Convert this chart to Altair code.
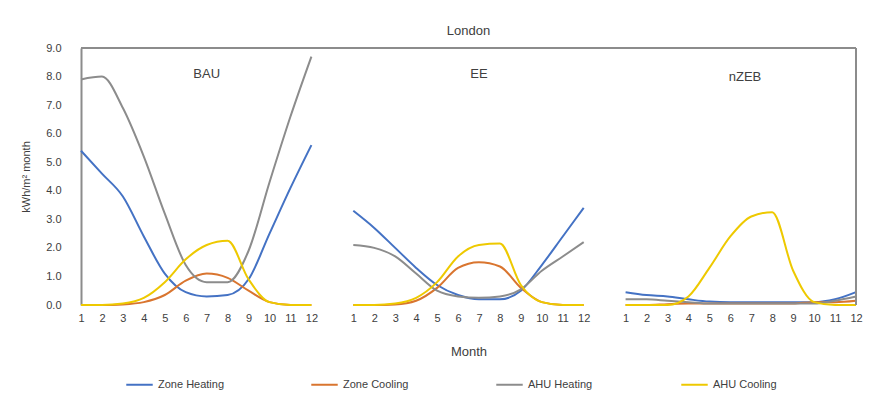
import altair as alt
import pandas as pd

months = list(range(1, 13))
scenarios = ["BAU", "EE", "nZEB"]
scenario_offsets = [0, 13, 26]
series_names = ["Zone Heating", "Zone Cooling", "AHU Heating", "AHU Cooling"]
series_colors = ["#4472C4", "#D9752F", "#8C8C8C", "#EEC900"]

zone_heating_bau = [5.4, 4.6, 3.8, 2.4, 1.1, 0.45, 0.3, 0.35, 0.9, 2.5, 4.1, 5.6]
zone_heating_ee = [3.3, 2.7, 2.0, 1.3, 0.7, 0.35, 0.2, 0.2, 0.5, 1.4, 2.4, 3.4]
zone_heating_nzeb = [0.45, 0.35, 0.3, 0.2, 0.12, 0.1, 0.1, 0.1, 0.1, 0.1, 0.2, 0.45]

zone_cooling_bau = [0, 0, 0.02, 0.1, 0.35, 0.85, 1.1, 0.95, 0.5, 0.1, 0, 0]
zone_cooling_ee = [0, 0, 0.02, 0.15, 0.6, 1.3, 1.5, 1.35, 0.6, 0.1, 0, 0]
zone_cooling_nzeb = [0, 0, 0.03, 0.05, 0.05, 0.05, 0.05, 0.05, 0.05, 0.1, 0.1, 0.15]

ahu_heating_bau = [7.9, 8.0, 6.9, 5.2, 3.2, 1.4, 0.8, 0.8, 1.9, 4.3, 6.6, 8.7]
ahu_heating_ee = [2.1, 2.0, 1.7, 1.1, 0.5, 0.3, 0.25, 0.3, 0.55, 1.2, 1.7, 2.2]
ahu_heating_nzeb = [0.2, 0.2, 0.15, 0.1, 0.05, 0.05, 0.05, 0.05, 0.05, 0.05, 0.15, 0.3]

ahu_cooling_bau = [0, 0, 0.05, 0.25, 0.8, 1.6, 2.1, 2.25, 0.9, 0.1, 0, 0]
ahu_cooling_ee = [0, 0, 0.05, 0.25, 0.8, 1.7, 2.1, 2.15, 0.7, 0.1, 0, 0]
ahu_cooling_nzeb = [0, 0, 0, 0.3, 1.3, 2.4, 3.1, 3.25, 1.2, 0.1, 0, 0]

panel_label_pos = [7, 20, 32.7]
panel_label_y = [8.1, 8.1, 8.0]

all_series = {
    "Zone Heating": [zone_heating_bau, zone_heating_ee, zone_heating_nzeb],
    "Zone Cooling": [zone_cooling_bau, zone_cooling_ee, zone_cooling_nzeb],
    "AHU Heating": [ahu_heating_bau, ahu_heating_ee, ahu_heating_nzeb],
    "AHU Cooling": [ahu_cooling_bau, ahu_cooling_ee, ahu_cooling_nzeb],
}

rows = []
for s in series_names:
    for sc, off, vals in zip(scenarios, scenario_offsets, all_series[s]):
        for m, v in zip(months, vals):
            rows.append({"series": s, "scenario": sc, "month": m, "pos": m + off, "value": v})
df = pd.DataFrame(rows)

tick_positions = [m + off for off in scenario_offsets for m in months]
label_df = pd.DataFrame({"label": scenarios, "pos": panel_label_pos, "value": panel_label_y})
top_df = pd.DataFrame({"value": [9]})
right_df = pd.DataFrame({"pos": [38]})

FONT = "Liberation Sans"
x_scale = alt.Scale(domain=[1, 38], nice=False, zero=False)
y_scale = alt.Scale(domain=[0, 9], nice=False)

x_axis = alt.Axis(values=tick_positions, grid=False, ticks=False, domain=False,
                  labelExpr="datum.value <= 12 ? datum.value : (datum.value <= 25 ? datum.value - 13 : datum.value - 26)",
                  title="Month", labelPadding=7, labelFontSize=11, labelColor="#404040",
                  titleFontSize=13, titleFontWeight="normal", titleColor="#404040",
                  titlePadding=22, labelFont=FONT, titleFont=FONT, labelFlush=False,
                  labelOverlap=False)
y_axis = alt.Axis(values=list(range(0, 10)), format=".1f", grid=False, tickSize=0,
                  domainColor="#8C8C8C", domainWidth=2, labelPadding=20,
                  labelFontSize=11, labelColor="#404040", title="kWh/m² month",
                  titleFontSize=11, titleFontWeight="normal", titleColor="#404040",
                  titlePadding=14, labelFont=FONT, titleFont=FONT, labelOverlap=False)

X = alt.X("pos:Q", scale=x_scale, axis=x_axis, title="Month")
Y = alt.Y("value:Q", scale=y_scale, axis=y_axis, title="kWh/m² month")

lines = alt.Chart(df).mark_line(strokeWidth=2, interpolate="monotone").encode(
    x=X, y=Y,
    color=alt.Color("series:N", scale=alt.Scale(domain=series_names, range=series_colors),
                    legend=alt.Legend(orient="none", legendX=44, legendY=322, direction="horizontal",
                                      columns=4, title=None, symbolType="stroke", symbolStrokeWidth=2,
                                      symbolSize=700, labelFontSize=11, labelColor="#404040",
                                      labelFont=FONT, columnPadding=82, gridAlign="all")),
    detail="scenario:N",
    order="pos:Q",
)

texts = alt.Chart(label_df).mark_text(fontSize=13, color="#404040", font=FONT).encode(
    x=X, y=Y, text="label:N")

top_rule = alt.Chart(top_df).mark_rule(color="#8C8C8C", strokeWidth=2).encode(y=Y)
right_rule = alt.Chart(right_df).mark_rule(color="#8C8C8C", strokeWidth=2).encode(x=X)

chart = alt.layer(lines, top_rule, right_rule, texts).properties(
    width=775, height=257,
    title=alt.TitleParams("London", fontSize=13, fontWeight="normal", color="#404040", offset=4, font=FONT),
    autosize=alt.AutoSizeParams(type="none"),
    padding={"left": 73, "top": 40, "right": 7, "bottom": 89},
).configure_view(stroke=None)

chart.save("out.html", embed_options={"renderer": "svg", "actions": False})
